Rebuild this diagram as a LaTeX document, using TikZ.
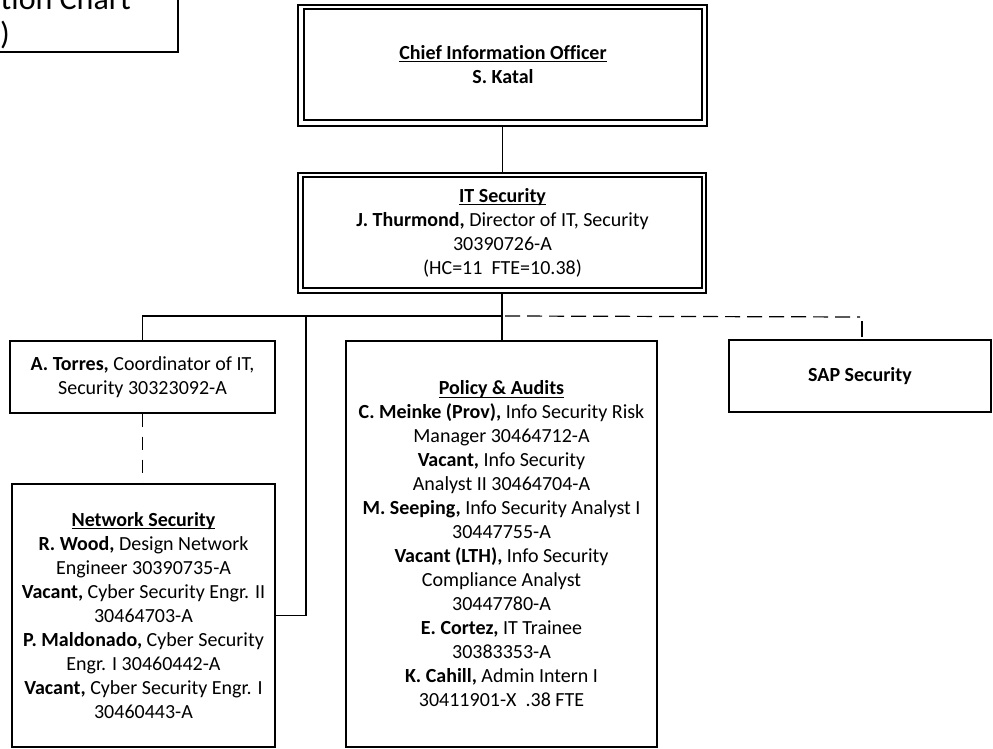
\documentclass[tikz,border=0pt]{standalone}
\usepackage{fontspec}
\setmainfont{Carlito}[Ligatures=CommonOff]
\newcommand\ulx[1]{{\setbox0=\hbox{#1}\rlap{\rule[-3pt]{\wd0}{1.3pt}}\box0}}
\tikzset{
  box/.style={draw, line width=1.3pt, inner sep=0pt, align=center,
    font=\fontsize{20}{24}\selectfont},
  conn/.style={line width=1.2pt},
  busline/.style={line width=2.4pt},
  dashh/.style={line width=1.2pt, dash pattern=on 15pt off 7pt},
  dashv/.style={line width=1.2pt, dash pattern=on 13pt off 10pt},
  titletext/.style={inner sep=0pt, font=\fontsize{32}{35}\selectfont}
}
\begin{document}
\begin{tikzpicture}[x=1pt,y=-1pt]
\clip (0,0) rectangle (993,749);
% title box (cut by the frame)
\draw[line width=1.3pt] (-60,-60) rectangle (178,52);
\node[titletext, anchor=base east] (title1) at (131,10) {tion Chart};
\node[titletext, anchor=base east] (title2) at (10,45) {)};
% CIO
\node[box, minimum width=409pt, minimum height=121pt] (ciooutr) at (502.5,65.5) {};
\node[box, minimum width=398pt, minimum height=111pt] (cio) at (503,64.5)
  {\ulx{\textbf{Chief Information Officer}}\\ \textbf{S. Katal}};
% IT Security
\node[box, minimum width=408pt, minimum height=120pt] (itsouter) at (502,233) {};
\node[box, minimum width=399pt, minimum height=111pt] (its) at (502.5,232.5)
  {\ulx{\textbf{IT Security}}\\
   \textbf{J. Thurmond,} Director of IT, Security\\
   30390726-A\\
   (HC=11\ \ FTE=10.38)};
% Torres
\node[box, minimum width=265pt, minimum height=72pt] (torres) at (142.5,377)
  {\textbf{A. Torres,} Coordinator of IT,\\ Security 30323092-A};
% Network Security
\node[box, minimum width=263pt, minimum height=263pt] (network) at (143.5,615.5)
  {\ulx{\textbf{Network Security}}\\
   \textbf{R. Wood,} Design Network\\
   Engineer 30390735-A\\
   \textbf{Vacant,} Cyber Security Engr. II\\
   30464703-A\\
   \textbf{P. Maldonado,} Cyber Security\\
   Engr. I 30460442-A\\
   \textbf{Vacant,} Cyber Security Engr. I\\
   30460443-A};
% Policy & Audits
\node[box, minimum width=311pt, minimum height=406pt] (policy) at (501.5,544)
  {\ulx{\textbf{Policy \& Audits}}\\
   \textbf{C. Meinke (Prov),} Info Security Risk\\
   Manager 30464712-A\\
   \textbf{Vacant,} Info Security\\
   Analyst II 30464704-A\\
   \textbf{M. Seeping,} Info Security Analyst I\\
   30447755-A\\
   \textbf{Vacant (LTH),} Info Security\\
   Compliance Analyst\\
   30447780-A\\
   \textbf{E. Cortez,} IT Trainee\\
   30383353-A\\
   \textbf{K. Cahill,} Admin Intern I\\
   30411901-X\ \ .38 FTE};
% SAP Security
\node[box, minimum width=262pt, minimum height=72pt] (sap) at (860,376)
  {\textbf{SAP Security}};
% connectors
\coordinate (bus) at (502,316);
\coordinate (brk) at (306,316);
\coordinate (dashend) at (860,317);
\draw[conn] (ciooutr.south) -- (ciooutr.south |- itsouter.north);
\draw[busline] (itsouter.south) -- (itsouter.south |- bus);
\draw[conn] (torres.north) |- (bus);
\draw[conn] (bus) -- (bus |- policy.north);
\draw[conn] (network.east) -| (brk);
\draw[dashh] ([xshift=3pt]bus) -- (dashend);
\draw[conn] ([xshift=2pt,yshift=2pt]sap.north) -- ++(0,-16);
\draw[dashv] (torres.south) -- (torres.south |- network.north);
\end{tikzpicture}
\end{document}
